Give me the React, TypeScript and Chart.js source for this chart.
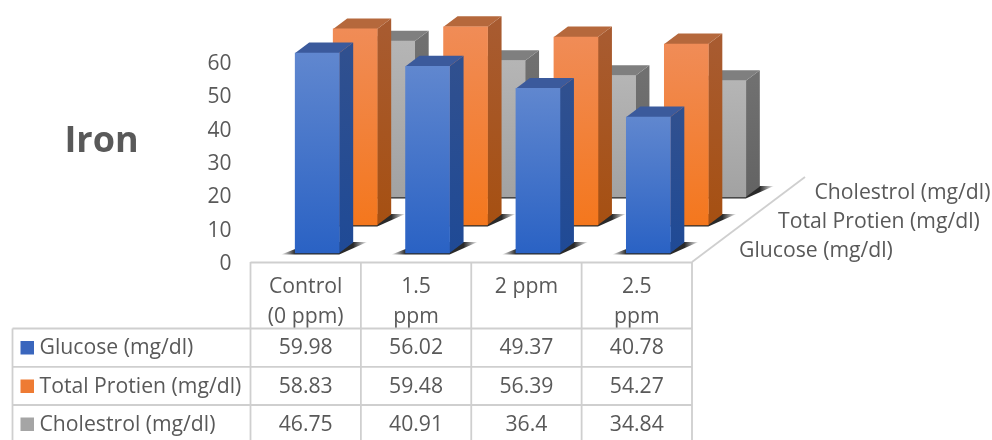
import React, { useEffect, useRef } from "react";
import { Chart, registerables } from "chart.js";

Chart.register(...registerables);

const categories = [["Control", "(0 ppm)"], ["1.5", "ppm"], "2 ppm", ["2.5", "ppm"]];
const glucose = [59.98, 56.02, 49.37, 40.78];
const totalProtien = [58.83, 59.48, 56.39, 54.27];
const cholestrol = [46.75, 40.91, 36.4, 34.84];
const seriesNames = ["Glucose (mg/dl)", "Total Protien (mg/dl)", "Cholestrol (mg/dl)"];
const chartTitle = "Iron";

const FONT = '"Open Sans", sans-serif';
const TEXT = "#595959";
const GRID = "#cfcfcf";
const BAR_W = 44;
const SIDE_DX = 14;
const SIDE_DY = -10.5;
const LABEL_SIZE = 21.2;

// Per-series look and its position on the depth axis.
const looks = [
  { dx: 11.5, dy: -9, front: ["#6087cf", "#2a62c4"], side: ["#30508f", "#1f4a96"], top: "#3b5a9c", key: "#3a66bd" },
  { dx: 49.5, dy: -37, front: ["#f08c57", "#f4771d"], side: ["#a85b30", "#a65012"], top: "#b5683c", key: "#ee7b33" },
  { dx: 87, dy: -65, front: ["#b5b5b5", "#a2a2a2"], side: ["#707070", "#636363"], top: "#7f7f7f", key: "#a5a5a5" },
];

const fillFor = (series: number) => (c: any) => {
  const look = looks[series];
  const y = c.chart.scales.y;
  const from = y && typeof c.raw === "number" ? y.getPixelForValue(c.raw) : NaN;
  const to = y ? y.getPixelForValue(0) : NaN;
  if (!Number.isFinite(from) || !Number.isFinite(to)) return look.front[1];
  const g = c.chart.ctx.createLinearGradient(0, from, 0, to);
  g.addColorStop(0, look.front[0]);
  g.addColorStop(1, look.front[1]);
  return g;
};

// Shifts each series back along the depth axis and adds the shadow, side and top faces.
const depthBars = {
  id: "depthBars",
  beforeDatasetDraw(chart: any, args: any) {
    const ctx = chart.ctx;
    const look = looks[args.index];
    ctx.save();
    ctx.translate(look.dx, look.dy);
    args.meta.data.forEach((bar: any) => {
      const { x, y, base } = bar.getProps(["x", "y", "base"], true);
      const x0 = x - BAR_W / 2;
      const x1 = x + BAR_W / 2;

      const reach = 14;
      const shade = ctx.createLinearGradient(x0 - reach, 0, x1 + SIDE_DX + reach, 0);
      const stop = reach / (BAR_W + SIDE_DX + 2 * reach);
      shade.addColorStop(0, "rgba(30,30,30,0.05)");
      shade.addColorStop(stop, "rgba(30,30,30,0.95)");
      shade.addColorStop(1 - stop, "rgba(30,30,30,0.95)");
      shade.addColorStop(1, "rgba(30,30,30,0.05)");
      ctx.fillStyle = shade;
      ctx.beginPath();
      ctx.moveTo(x0 - reach, base + 1.5);
      ctx.lineTo(x1, base + 1.5);
      ctx.lineTo(x1 + SIDE_DX + reach, base + SIDE_DY - 0.5);
      ctx.lineTo(x1, base + SIDE_DY - 0.5);
      ctx.lineTo(x0, base - 4);
      ctx.closePath();
      ctx.fill();

      const sideFill = ctx.createLinearGradient(0, y, 0, base);
      sideFill.addColorStop(0, look.side[0]);
      sideFill.addColorStop(1, look.side[1]);
      ctx.fillStyle = sideFill;
      ctx.beginPath();
      ctx.moveTo(x1, y);
      ctx.lineTo(x1 + SIDE_DX, y + SIDE_DY);
      ctx.lineTo(x1 + SIDE_DX, base + SIDE_DY);
      ctx.lineTo(x1, base);
      ctx.closePath();
      ctx.fill();

      ctx.fillStyle = look.top;
      ctx.beginPath();
      ctx.moveTo(x0, y);
      ctx.lineTo(x0 + SIDE_DX, y + SIDE_DY);
      ctx.lineTo(x1 + SIDE_DX, y + SIDE_DY);
      ctx.lineTo(x1, y);
      ctx.closePath();
      ctx.fill();
    });
  },
  afterDatasetDraw(chart: any) {
    chart.ctx.restore();
  },
};

// Floor edge, data table grid, its rows, the depth-axis names and the side title.
const tableAndLabels = {
  id: "tableAndLabels",
  afterDraw(chart: any) {
    const ctx = chart.ctx;
    const { left, right, bottom } = chart.chartArea;
    const xs = chart.scales.x;
    const tableLeft = 12.5;
    const rowLines = [328.5, 366.8, 405];
    const tableBottom = 440;
    const rows = [glucose, totalProtien, cholestrol];
    const rowText = [347.5, 386, 424];

    ctx.save();
    ctx.strokeStyle = GRID;
    ctx.lineWidth = 1.8;
    const seg = (a: number, b: number, c: number, d: number) => {
      ctx.beginPath();
      ctx.moveTo(a, b);
      ctx.lineTo(c, d);
      ctx.stroke();
    };
    seg(right, bottom, 805, 177);
    seg(left, bottom + 0.5, right, bottom + 0.5);
    rowLines.forEach((y) => seg(tableLeft, y, right, y));
    seg(tableLeft, rowLines[0], tableLeft, tableBottom);
    const step = (right - left) / categories.length;
    for (let i = 0; i <= categories.length; i++) {
      seg(left + step * i, bottom, left + step * i, tableBottom);
    }

    ctx.textBaseline = "middle";
    ctx.font = `${LABEL_SIZE}px ${FONT}`;
    rows.forEach((row, r) => {
      ctx.fillStyle = looks[r].key;
      ctx.fillRect(20.5, rowText[r] - 6.5, 13.5, 13.5);
      ctx.fillStyle = TEXT;
      ctx.textAlign = "left";
      ctx.fillText(seriesNames[r], 39.5, rowText[r] + 0.5);
      ctx.textAlign = "center";
      row.forEach((v, c) => ctx.fillText(String(v), xs.getPixelForTick(c), rowText[r] + 0.5));
    });

    ctx.textAlign = "left";
    ctx.fillText(seriesNames[2], 814.5, 193);
    ctx.fillText(seriesNames[1], 778, 222);
    ctx.fillText(seriesNames[0], 739, 251);

    ctx.textAlign = "center";
    ctx.font = `bold 36px ${FONT}`;
    ctx.fillText(chartTitle, 101.5, 142);
    ctx.restore();
  },
};

export default function App() {
  const ref = useRef<HTMLCanvasElement>(null);

  useEffect(() => {
    const series = [glucose, totalProtien, cholestrol];
    const chart = new Chart(ref.current as HTMLCanvasElement, {
      type: "bar",
      data: {
        labels: categories as any,
        datasets: series.map((data, i) => ({
          label: seriesNames[i],
          data,
          backgroundColor: fillFor(i) as any,
          barThickness: BAR_W,
          clip: false as any,
        })),
      },
      options: {
        responsive: false,
        animation: false,
        layout: { padding: { left: 0, top: 62, right: 300, bottom: 0 } },
        datasets: { bar: { grouped: false } },
        plugins: { legend: { display: false }, tooltip: { enabled: false }, title: { display: false } },
        scales: {
          x: {
            offset: true,
            grid: { display: false },
            border: { display: false },
            afterFit: (s: any) => { s.height = 178; },
            ticks: {
              color: TEXT,
              padding: 2,
              maxRotation: 0,
              autoSkip: false,
              font: { family: FONT, size: LABEL_SIZE, lineHeight: 1.42 },
            },
          },
          y: {
            min: 0,
            max: 60,
            grid: { display: false },
            border: { display: false },
            afterFit: (s: any) => { s.width = 250.5; },
            ticks: {
              stepSize: 10,
              color: TEXT,
              padding: 11,
              labelOffset: 2,
              font: { family: FONT, size: 21 },
            },
          },
        },
      },
      plugins: [depthBars, tableAndLabels],
    } as any);
    return () => chart.destroy();
  }, []);

  return (
    <div style={{ position: "fixed", left: 0, top: 0 }}>
      <canvas ref={ref} width={992} height={440} style={{ display: "block" }} />
    </div>
  );
}
